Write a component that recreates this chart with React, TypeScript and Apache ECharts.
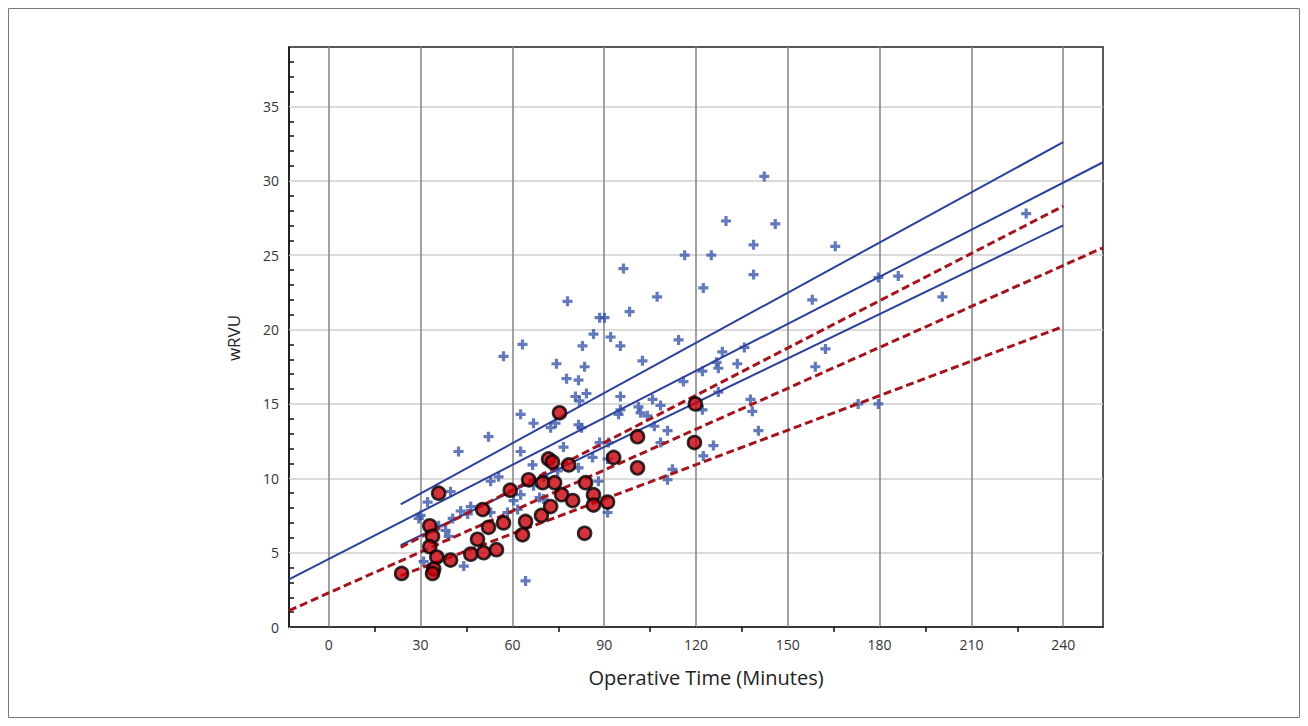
import React, { useEffect, useRef } from "react";
import * as echarts from "echarts";

// Axis tick labels / tick positions
const xTickLabels = [0, 30, 60, 90, 120, 150, 180, 210, 240];
const xMinorTicks = [15, 45, 75, 105, 135, 165, 195, 225];
const yTickLabels = [0, 5, 10, 15, 20, 25, 30, 35];
const yMinorTicks = [1, 2, 3, 4, 6, 7, 8, 9, 11, 12, 13, 14, 16, 17, 18, 19, 21, 22, 23, 24, 26, 27, 28, 29, 31, 32, 33, 34, 36, 37, 38];

// Blue crosses (operative time, wRVU)
const blueCrosses: [number, number][] = [
  [142.3, 30.3], [129.8, 27.3], [145.9, 27.1], [138.8, 25.7], [165.5, 25.6], [116.3, 25.0], [125, 25.0],
  [96.3, 24.1], [138.8, 23.7], [179.6, 23.5], [186.1, 23.6], [122.4, 22.8], [78, 21.9], [107.3, 22.2],
  [158, 22.0], [200.5, 22.2], [227.9, 27.8], [98.3, 21.2], [88.5, 20.8], [90.1, 20.8], [86.5, 19.7],
  [92.1, 19.5], [114.3, 19.3], [63.3, 19.0], [82.9, 18.9], [95.3, 18.9], [57.1, 18.2], [102.5, 17.9],
  [162.3, 18.7], [128.6, 18.5], [135.8, 18.8], [159, 17.5], [133.5, 17.7], [126.7, 17.8], [127.3, 17.4],
  [122.1, 17.2], [74.4, 17.7], [83.6, 17.5], [77.7, 16.7], [81.6, 16.6], [115.9, 16.5], [84.2, 15.7],
  [80.6, 15.5], [81.9, 15.2], [95.3, 15.5], [105.8, 15.3], [108.4, 14.9], [127.3, 15.8], [101.9, 14.4],
  [137.8, 15.3], [138.4, 14.5], [106.4, 13.5], [110.7, 13.2], [140.4, 13.2], [122.1, 14.6], [108.4, 12.4],
  [122.4, 11.5], [125.7, 12.2], [112.3, 10.6], [110.7, 9.9], [173, 15.0], [179.6, 15.0], [62.7, 14.3],
  [66.9, 13.7], [72.5, 13.4], [74.1, 13.7], [81.6, 13.6], [82.6, 13.4], [95.3, 14.6], [101.2, 14.8],
  [94.7, 14.3], [104.1, 14.2], [52.2, 12.8], [42.4, 11.8], [62.7, 11.8], [66.6, 10.9], [76.7, 12.1],
  [88.5, 12.4], [91.4, 12.4], [86.2, 11.4], [91.1, 11.3], [70.2, 10.1], [74.8, 10.5], [81.6, 10.7],
  [62.7, 8.9], [68.9, 8.7], [88.1, 9.8], [91.1, 7.7], [64.3, 3.1], [39.8, 9.1], [32.3, 8.4], [30, 7.5],
  [52.9, 9.8], [55.5, 10.1], [46.4, 8.1], [43.1, 7.8], [45.4, 7.6], [40.5, 7.3], [38.2, 6.5], [39.2, 6.1],
  [35.9, 6.8], [52.9, 7.7], [60.4, 8.5], [58.4, 7.7], [61.7, 7.9], [66.9, 9.5], [70.2, 8.6], [44.1, 4.1],
  [31, 4.4], [29.4, 7.3],
];

// Red circles
const redCircles: [number, number][] = [
  [23.8, 3.6], [33.0, 6.8], [33.9, 6.1], [33.0, 5.4], [35.3, 4.7], [34.3, 3.9], [33.9, 3.6], [35.9, 9.0],
  [39.8, 4.5], [46.4, 4.9], [50.6, 5.0], [54.8, 5.2], [48.6, 5.9], [52.2, 6.7], [57.1, 7.0], [50.3, 7.9],
  [59.3, 9.2], [64.3, 7.1], [63.3, 6.2], [65.3, 9.9], [69.9, 9.7], [73.8, 9.7], [71.8, 11.3], [73.1, 11.1],
  [78.4, 10.9], [75.4, 14.4], [69.5, 7.5], [72.5, 8.1], [76.1, 8.9], [79.7, 8.5], [83.9, 9.7], [86.5, 8.9],
  [86.5, 8.2], [91.1, 8.4], [83.6, 6.3], [93.1, 11.4], [100.9, 12.8], [100.9, 10.7], [119.8, 15.0], [119.5, 12.4],
];

// Regression lines and bands (endpoints)
const blueFit: [number, number][] = [[-13, 3.2], [253, 31.25]];
const blueUpper: [number, number][] = [[23.5, 8.25], [240, 32.6]];
const blueLower: [number, number][] = [[23.5, 5.5], [240, 27.0]];
const redFit: [number, number][] = [[-13, 1.1], [253, 25.5]];
const redUpper: [number, number][] = [[23.5, 5.35], [240, 28.3]];
const redLower: [number, number][] = [[23.5, 3.45], [240, 20.2]];

const xTitle = "Operative Time (Minutes)";
const yTitle = "wRVU";

const FONT = "'Open Sans', 'Noto Sans', sans-serif";
const CROSS = "path://M3.4,0 L6.6,0 L6.6,3.4 L10,3.4 L10,6.6 L6.6,6.6 L6.6,10 L3.4,10 L3.4,6.6 L0,6.6 L0,3.4 L3.4,3.4 Z";
const X_MIN = -13;
const X_MAX = 253;
const Y_MIN = 0;
const Y_MAX = 39;

export default function App() {
  const ref = useRef<HTMLDivElement>(null);
  useEffect(() => {
    if (!ref.current) return;
    const chart = echarts.init(ref.current, undefined, { renderer: "svg" });
    const blueLine = { type: "line", showSymbol: false, symbol: "none", lineStyle: { color: "#2c409a", width: 2 }, z: 3 };
    const redLine = { type: "line", showSymbol: false, symbol: "none", lineStyle: { color: "#a3141e", width: 3, type: [8, 4] }, z: 4 };
    const axisLineStyle = { color: "#111", width: 1.5 };
    chart.setOption({
      animation: false,
      backgroundColor: "#ffffff",
      grid: {
        left: 289, right: 205, top: 47, bottom: 99,
        show: true, borderColor: "#222", borderWidth: 1.5, containLabel: false,
      },
      xAxis: [
        {
          type: "value", min: X_MIN, max: X_MAX,
          axisLine: { show: true, onZero: false, lineStyle: axisLineStyle },
          axisTick: { show: true, inside: true, length: 1, customValues: xTickLabels, lineStyle: { color: "#8a8a8a", width: 1 } },
          axisLabel: { customValues: xTickLabels, color: "#333", fontSize: 14, fontFamily: FONT, margin: 10 },
          splitLine: { show: true, lineStyle: { color: "#8a8a8a", width: 1.6 } },
        },
        {
          type: "value", min: X_MIN, max: X_MAX, position: "bottom",
          axisLine: { show: false, onZero: false },
          axisTick: { show: true, inside: false, length: 5, customValues: xMinorTicks, lineStyle: axisLineStyle },
          axisLabel: { show: false },
          splitLine: { show: false },
        },
      ],
      yAxis: [
        {
          type: "value", min: Y_MIN, max: Y_MAX,
          axisLine: { show: true, onZero: false, lineStyle: axisLineStyle },
          axisTick: { show: true, inside: true, length: 1, customValues: yTickLabels, lineStyle: { color: "#cfcfcf", width: 1 } },
          axisLabel: { customValues: yTickLabels, color: "#333", fontSize: 14, fontFamily: FONT, margin: 10 },
          splitLine: { show: true, lineStyle: { color: "#cfcfcf", width: 1.6 } },
        },
        {
          type: "value", min: Y_MIN, max: Y_MAX, position: "left",
          axisLine: { show: false, onZero: false },
          axisTick: { show: true, inside: true, length: 5, customValues: yMinorTicks, lineStyle: axisLineStyle },
          axisLabel: { show: false },
          splitLine: { show: false },
        },
      ],
      graphic: [
        { type: "rect", shape: { x: 8.5, y: 8.5, width: 1291, height: 709 }, style: { fill: "none", stroke: "#777", lineWidth: 1 }, silent: true },
        { type: "text", x: 706, y: 677, style: { text: xTitle, fill: "#222", font: `20px ${FONT}`, textAlign: "center", textVerticalAlign: "middle" } },
        { type: "text", x: 233, y: 338, rotation: Math.PI / 2, style: { text: yTitle, fill: "#222", font: `17px ${FONT}`, textAlign: "center", textVerticalAlign: "middle" } },
      ],
      series: [
        { type: "scatter", data: blueCrosses, symbol: CROSS, symbolSize: 10, itemStyle: { color: "#3b57aa" }, z: 2 },
        { ...blueLine, data: blueFit },
        { ...blueLine, data: blueUpper },
        { ...blueLine, data: blueLower },
        { ...redLine, data: redFit },
        { ...redLine, data: redUpper },
        { ...redLine, data: redLower },
        { type: "scatter", data: redCircles, symbol: "circle", symbolSize: 13, itemStyle: { color: "#c8000a", borderColor: "#000", borderWidth: 2.6 }, z: 5 },
      ],
    });
    return () => chart.dispose();
  }, []);
  return <div ref={ref} style={{ position: "fixed", left: 0, top: 0, width: 1308, height: 726 }} />;
}
